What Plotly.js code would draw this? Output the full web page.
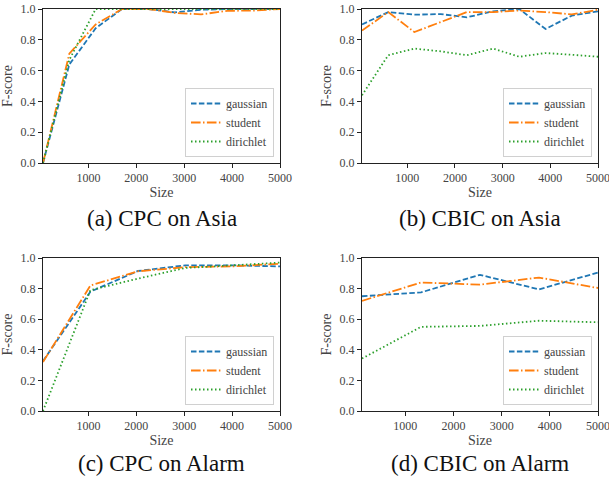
<!DOCTYPE html>
<html>
<head>
<meta charset="utf-8">
<script src="https://cdn.plot.ly/plotly-3.0.1.min.js"></script>
<style>html,body{margin:0;padding:0;background:#fff;}#plot{width:609px;height:481px;}</style>
</head>
<body>
<div id="plot"></div>
<script>
// ---- data ----
const seriesNames = ["gaussian", "student", "dirichlet"];
const captions = ["(a) CPC on Asia", "(b) CBIC on Asia", "(c) CPC on Alarm", "(d) CBIC on Alarm"];
const xTicks = [1000, 2000, 3000, 4000, 5000];
const yTicks = [0, 0.2, 0.4, 0.6, 0.8, 1.0];

const sizesA = [50, 600, 1150, 1700, 2250, 2800, 3350, 3900, 4450, 5000];
const gaussA = [0.0, 0.64, 0.875, 1.0, 1.0, 0.978, 0.995, 1.0, 1.0, 1.0];
const studentA = [0.0, 0.71, 0.90, 1.0, 1.0, 0.975, 0.965, 0.988, 0.99, 1.0];
const dirichletA = [0.0, 0.67, 1.0, 1.0, 1.0, 1.0, 1.0, 1.0, 1.0, 1.0];

const sizesB = [50, 600, 1150, 1700, 2250, 2800, 3350, 3900, 4450, 5000];
const gaussB = [0.90, 0.98, 0.963, 0.967, 0.946, 0.985, 1.0, 0.87, 0.957, 0.985];
const studentB = [0.86, 0.98, 0.85, 0.915, 0.98, 0.98, 0.99, 0.98, 0.965, 0.995];
const dirichletB = [0.44, 0.70, 0.743, 0.725, 0.70, 0.743, 0.69, 0.714, 0.703, 0.69];

const sizesC = [50, 1040, 2030, 3020, 4010, 5000];
const gaussC = [0.326, 0.78, 0.915, 0.952, 0.952, 0.945];
const studentC = [0.32, 0.82, 0.913, 0.94, 0.945, 0.963];
const dirichletC = [0.0, 0.79, 0.865, 0.935, 0.952, 0.97];

const sizesD = [100, 1325, 2550, 3775, 5000];
const gaussD = [0.75, 0.775, 0.89, 0.795, 0.905];
const studentD = [0.72, 0.84, 0.826, 0.872, 0.804];
const dirichletD = [0.343, 0.55, 0.556, 0.59, 0.58];

// ---- styling ----
const colors = ["#1f77b4", "#ff7f0e", "#2ca02c"];
const dashes = ["5.5px,2.4px", "9.6px,2.4px,1.5px,2.4px", "1.5px,2.5px"];
const W = 609, H = 481;
const font = "Liberation Serif";

const panels = [
  {x: sizesA, ys: [gaussA, studentA, dirichletA], xmin: 50},
  {x: sizesB, ys: [gaussB, studentB, dirichletB], xmin: 50},
  {x: sizesC, ys: [gaussC, studentC, dirichletC], xmin: 50},
  {x: sizesD, ys: [gaussD, studentD, dirichletD], xmin: 100}
];
// pixel boxes [left, right, top, bottom]
const boxes = [[43, 280, 9, 163], [362, 598, 9, 163], [43, 280, 258, 411], [362, 598, 258, 411]];

const traces = [];
const layout = {
  width: W, height: H,
  margin: {l: 0, r: 0, t: 0, b: 0},
  paper_bgcolor: "#fff", plot_bgcolor: "#fff",
  font: {family: font, size: 11, color: "#444"},
  annotations: [],
  showlegend: true
};

panels.forEach((p, i) => {
  const n = i + 1;
  const xa = "x" + (n === 1 ? "" : n), ya = "y" + (n === 1 ? "" : n);
  const legName = "legend" + (n === 1 ? "" : n);
  p.ys.forEach((ys, k) => {
    traces.push({
      type: "scatter", mode: "lines", x: p.x, y: ys, name: seriesNames[k],
      xaxis: xa, yaxis: ya, legend: legName,
      line: {color: colors[k], width: 1.8, dash: dashes[k]}
    });
  });
  const b = boxes[i];
  const axCommon = {
    showline: true, mirror: true, linecolor: "#222", linewidth: 1,
    ticks: "outside", ticklen: 4, tickwidth: 1, tickcolor: "#222",
    showgrid: false, zeroline: false, fixedrange: true,
    ticklabeloverflow: "allow",
    tickfont: {family: font, size: 12, color: "#444"}
  };
  layout["xaxis" + (n === 1 ? "" : n)] = Object.assign({}, axCommon, {
    domain: [b[0] / W, b[1] / W], anchor: ya,
    range: [p.xmin, 5000], tickvals: xTicks, ticktext: xTicks.map(String),
    title: {text: "Size", font: {family: font, size: 14, color: "#444"}, standoff: 2}
  });
  layout["yaxis" + (n === 1 ? "" : n)] = Object.assign({}, axCommon, {
    domain: [1 - b[3] / H, 1 - b[2] / H], anchor: xa,
    range: [0, 1], tickvals: yTicks, ticktext: yTicks.map(v => v.toFixed(1)),
    title: {text: "F-score", font: {family: font, size: 14, color: "#444"}, standoff: 4}
  });
  layout[legName] = {
    x: (b[1] - 6) / W, xanchor: "right", y: 1 - (b[3] - 6) / H, yanchor: "bottom",
    bgcolor: "rgba(255,255,255,0.85)", bordercolor: "#d0d0d0", borderwidth: 1,
    font: {family: font, size: 12, color: "#444"}, tracegroupgap: 0, itemwidth: 30
  };
  layout.annotations.push({
    text: captions[i], xref: "paper", yref: "paper",
    x: (b[0] + b[1]) / 2 / W, y: 1 - (i < 2 ? 218 : 463) / H,
    xanchor: "center", yanchor: "middle", showarrow: false,
    font: {family: font, size: 23, color: "#111"}
  });
});

Plotly.newPlot("plot", traces, layout, {staticPlot: true, displayModeBar: false});
</script>
</body>
</html>
